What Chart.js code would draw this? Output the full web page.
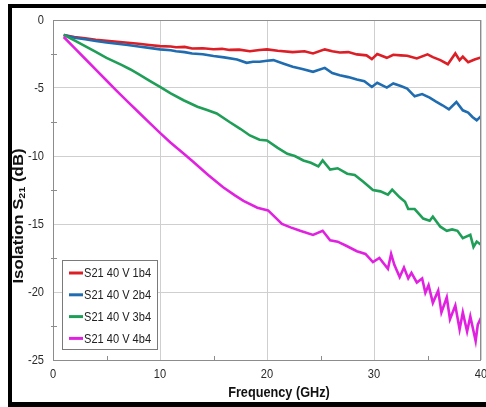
<!DOCTYPE html>
<html lang="en">
<head>
  <meta charset="UTF-8">
  <title>Isolation S21</title>
  <script src="https://cdn.jsdelivr.net/npm/chart.js"></script>
  <style>
    body { margin: 0; background: #fff; }
  </style>
</head>
<body>
  <canvas id="isoChart" width="486" height="407"></canvas>

  <script>
    // values (GHz / dB)
    const seriesNames = ['S21 40 V 1b4', 'S21 40 V 2b4', 'S21 40 V 3b4', 'S21 40 V 4b4'];
    const seriesColors = ['#dc1e26', '#1f6cb0', '#1f9e57', '#e022e0'];

    const freq1b4 = [1, 2, 3, 4, 5, 6, 7, 8, 9, 10, 11, 11.5, 12.3, 13, 14, 15, 15.8, 16.5, 17.4, 18.4, 19.3, 20, 21, 22.4, 23.5, 24.3, 25.4, 26.1, 26.8, 27.6, 28.4, 29.3, 29.8, 30.3, 31.2, 31.8, 32.5, 33.1, 34, 35, 35.5, 36.2, 36.9, 37.6, 38, 38.3, 38.8, 39.4, 40];
    const s21_1b4 = [-1.1, -1.25, -1.35, -1.45, -1.52, -1.6, -1.67, -1.75, -1.84, -1.92, -1.95, -2.0, -1.98, -2.1, -2.08, -2.15, -2.12, -2.2, -2.18, -2.3, -2.2, -2.16, -2.26, -2.36, -2.3, -2.46, -2.16, -2.3, -2.39, -2.36, -2.53, -2.6, -2.88, -2.5, -2.78, -2.56, -2.6, -2.63, -2.83, -2.53, -2.73, -2.95, -3.25, -2.46, -2.95, -2.7, -3.1, -2.9, -2.75];

    const freq2b4 = [1, 2, 3, 4, 5, 6, 7, 8, 9, 10, 11, 11.5, 12.3, 13, 14, 15, 16, 17.2, 18.1, 18.7, 19.3, 20, 20.6, 21.5, 22.4, 23.3, 24.3, 25.4, 26.1, 26.8, 27.6, 28.4, 29.1, 29.8, 30.3, 31.2, 31.8, 32.5, 33.1, 33.8, 34.5, 35.2, 35.8, 36.4, 37, 37.7, 38.3, 38.8, 39.2, 39.6, 40];
    const s21_2b4 = [-1.1, -1.3, -1.42, -1.55, -1.65, -1.75, -1.84, -1.95, -2.05, -2.16, -2.22, -2.3, -2.36, -2.46, -2.52, -2.65, -2.75, -2.9, -3.15, -3.07, -3.07, -3.0, -2.95, -3.2, -3.44, -3.6, -3.81, -3.52, -3.9, -4.06, -4.2, -4.38, -4.5, -4.92, -4.62, -4.97, -4.67, -4.85, -5.04, -5.61, -5.45, -5.71, -6.0, -6.27, -6.57, -6.03, -6.64, -6.8, -7.13, -7.38, -7.08];

    const freq3b4 = [1, 2, 3, 4, 5, 6.4, 7.2, 8, 9, 10, 11, 12.2, 13.5, 14.4, 15.3, 16.5, 17.5, 18.4, 19.3, 20, 21, 21.9, 22.6, 23.4, 24.1, 24.8, 25.2, 25.9, 26.6, 27.5, 28.2, 29, 29.9, 30.6, 31.3, 31.7, 32.4, 32.9, 33.2, 33.8, 34.6, 35.2, 35.5, 36.2, 36.8, 37.3, 37.8, 38.3, 39, 39.3, 39.6, 40];
    const s21_3b4 = [-1.1, -1.5, -1.92, -2.35, -2.78, -3.3, -3.62, -3.98, -4.45, -4.92, -5.4, -5.9, -6.38, -6.62, -6.87, -7.5, -8.0, -8.49, -8.8, -8.86, -9.4, -9.84, -10.0, -10.33, -10.5, -10.77, -10.33, -11.0, -10.9, -11.3, -11.4, -11.9, -12.5, -12.6, -12.84, -12.47, -13.04, -13.36, -13.9, -13.9, -14.6, -14.76, -14.46, -15.2, -15.5, -15.4, -15.5, -16.04, -15.8, -16.68, -16.29, -16.53];

    const freq4b4 = [1, 2, 3, 4, 5, 6, 7, 8, 9, 10, 11, 12.2, 13.1, 14.5, 15.9, 17, 17.8, 19.1, 20.1, 21.4, 22.2, 23.1, 24.3, 25.2, 25.9, 26.6, 27.4, 28.4, 29.2, 29.9, 30.5, 31.3, 31.6, 31.9, 32.4, 32.8, 33.2, 33.5, 34, 34.5, 34.8, 35.1, 35.5, 36, 36.3, 36.8, 37.1, 37.6, 38, 38.3, 38.7, 39, 39.5, 39.7, 40];
    const s21_4b4 = [-1.25, -2.05, -2.85, -3.65, -4.45, -5.25, -6.02, -6.78, -7.55, -8.3, -9.02, -9.82, -10.42, -11.4, -12.3, -12.9, -13.3, -13.8, -14.0, -15.0, -15.25, -15.5, -15.8, -15.5, -16.2, -16.3, -16.6, -17.0, -17.2, -17.8, -17.5, -18.3, -17.2, -18.0, -18.9, -18.2, -19.0, -18.6, -19.3, -19.0, -20.05, -19.5, -20.8, -19.9, -21.5, -20.4, -22.0, -21.0, -22.75, -21.5, -22.9, -21.8, -23.6, -22.4, -21.9];

    const xTicks = [0, 10, 20, 30, 40];
    const xMinorTicks = [5, 15, 25, 35];
    const yTicks = [0, -5, -10, -15, -20, -25];
    const yMinorTicks = [-2.5, -7.5, -12.5, -17.5, -22.5];

    const freqs = [freq1b4, freq2b4, freq3b4, freq4b4];
    const values = [s21_1b4, s21_2b4, s21_3b4, s21_4b4];

    const FONT = 'Arial, "Liberation Sans", sans-serif';
    const SQUEEZE = 0.82; // the source figure's text looks horizontally condensed

    function toPoints(xs, ys) {
      return xs.map((x, i) => ({ x: x, y: ys[i] }));
    }

    function squeezedText(ctx, text, x, y, font, align) {
      ctx.save();
      ctx.translate(x, y);
      ctx.scale(SQUEEZE, 1);
      ctx.font = font;
      ctx.textAlign = align;
      ctx.textBaseline = 'middle';
      ctx.fillText(text, 0, 0);
      ctx.restore();
    }

    const datasets = seriesNames.map((name, i) => ({
      label: name,
      data: toPoints(freqs[i], values[i]),
      borderColor: seriesColors[i],
      backgroundColor: seriesColors[i],
      borderWidth: 2.6,
      pointRadius: 0,
      tension: 0,
      order: seriesNames.length - i
    }));

    // frame, tick labels, minor ticks, legend box and axis titles
    const decorations = {
      id: 'decorations',
      beforeDraw(chart) {
        const ctx = chart.ctx;
        ctx.save();
        ctx.fillStyle = '#fff';
        ctx.fillRect(0, 0, chart.width, chart.height);
        ctx.restore();
      },
      afterDraw(chart) {
        const ctx = chart.ctx;
        const a = chart.chartArea;
        const xs = chart.scales.x;
        const ys = chart.scales.y;
        ctx.save();

        // plot frame
        ctx.strokeStyle = '#8c8c8c';
        ctx.lineWidth = 1;
        ctx.strokeRect(a.left + 0.5, a.top + 0.5, a.right - a.left - 1, a.bottom - a.top);

        // minor ticks
        ctx.beginPath();
        xMinorTicks.forEach(v => {
          const px = Math.round(xs.getPixelForValue(v)) + 0.5;
          ctx.moveTo(px, a.bottom + 1);
          ctx.lineTo(px, a.bottom - 4);
        });
        yMinorTicks.forEach(v => {
          const py = Math.round(ys.getPixelForValue(v)) + 0.5;
          ctx.moveTo(a.left - 2, py);
          ctx.lineTo(a.left + 4, py);
        });
        ctx.stroke();

        // tick labels
        ctx.fillStyle = '#2a2a2a';
        xs.ticks.forEach(t => {
          squeezedText(ctx, String(t.value), xs.getPixelForValue(t.value), a.bottom + 14, '13.5px ' + FONT, 'center');
        });
        ys.ticks.forEach(t => {
          squeezedText(ctx, String(t.value), a.left - 9, ys.getPixelForValue(t.value), '13.5px ' + FONT, 'right');
        });

        // legend
        const lx = 62, ly = 260, lw = 95, lh = 89;
        ctx.fillStyle = '#fff';
        ctx.fillRect(lx, ly, lw, lh);
        ctx.strokeStyle = '#7a7a7a';
        ctx.lineWidth = 1;
        ctx.strokeRect(lx + 0.5, ly + 0.5, lw, lh);
        chart.data.datasets.forEach((ds, i) => {
          const y = 273 + i * 21.8;
          ctx.strokeStyle = ds.borderColor;
          ctx.lineWidth = 3;
          ctx.beginPath();
          ctx.moveTo(69, y);
          ctx.lineTo(83, y);
          ctx.stroke();
          ctx.fillStyle = '#222';
          squeezedText(ctx, ds.label, 84, y + 0.5, '13.5px ' + FONT, 'left');
        });

        // x title
        ctx.fillStyle = '#111';
        squeezedText(ctx, 'Frequency (GHz)', 279, 393, 'bold 15.5px ' + FONT, 'center');

        // y title with subscript, rotated
        ctx.save();
        ctx.translate(19.5, 216);
        ctx.rotate(-Math.PI / 2);
        ctx.scale(1.2, 1);
        ctx.textBaseline = 'middle';
        const parts = [
          { t: 'Isolation S', f: 'bold 14px ' + FONT, dy: 0 },
          { t: '21', f: 'bold 9px ' + FONT, dy: 3 },
          { t: ' (dB)', f: 'bold 14px ' + FONT, dy: 0 }
        ];
        let total = 0;
        parts.forEach(p => { ctx.font = p.f; p.w = ctx.measureText(p.t).width; total += p.w; });
        let cx = -total / 2;
        ctx.textAlign = 'left';
        parts.forEach(p => {
          ctx.font = p.f;
          ctx.fillText(p.t, cx, p.dy);
          cx += p.w;
        });
        ctx.restore();

        // outer black border of the figure
        ctx.fillStyle = '#000';
        ctx.fillRect(8, 4, chart.width - 8, 4);
        ctx.fillRect(8, 4, 4, chart.height - 4);
        ctx.fillRect(8, 402, chart.width - 8, 5);

        ctx.restore();
      }
    };

    const config = {
      type: 'line',
      data: { datasets: datasets },
      options: {
        responsive: false,
        animation: false,
        layout: { padding: { top: 20, right: 5, left: 0, bottom: 0 } },
        plugins: {
          legend: { display: false },
          tooltip: { enabled: false }
        },
        scales: {
          x: {
            type: 'linear',
            min: 0,
            max: 40,
            afterBuildTicks: scale => { scale.ticks = xTicks.map(v => ({ value: v })); },
            afterFit: scale => { scale.height = 47; },
            grid: { color: '#cfcfcf', drawTicks: false },
            border: { display: false },
            ticks: { display: false }
          },
          y: {
            type: 'linear',
            min: -25,
            max: 0,
            afterBuildTicks: scale => { scale.ticks = yTicks.map(v => ({ value: v })); },
            afterFit: scale => { scale.width = 53; },
            grid: { color: '#cfcfcf', drawTicks: false },
            border: { display: false },
            ticks: { display: false }
          }
        }
      },
      plugins: [decorations]
    };

    new Chart(document.getElementById('isoChart'), config);
  </script>
</body>
</html>
